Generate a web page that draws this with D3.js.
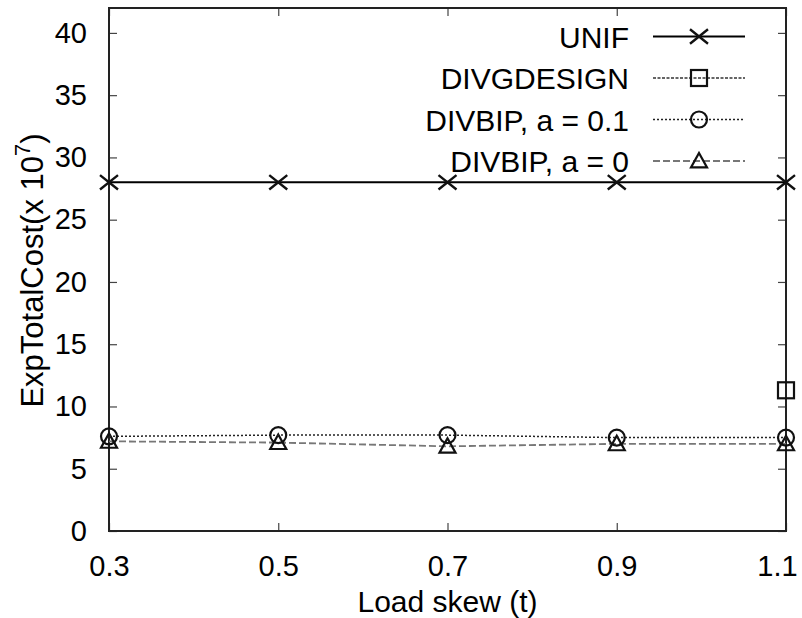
<!DOCTYPE html>
<html>
<head>
<meta charset="utf-8">
<script src="https://cdn.jsdelivr.net/npm/d3@7"></script>
<style>
  body { margin: 0; background: #fff; }
  text { font-family: "Liberation Sans", Arial, sans-serif; fill: #000; }
</style>
</head>
<body>
<div id="chart"></div>
<script>
// data
const skew = [0.3, 0.5, 0.7, 0.9, 1.1];
const unif = [28, 28, 28, 28, 28];
const divgdesign = [null, null, null, null, 11.3];
const divbip01 = [7.6, 7.7, 7.7, 7.5, 7.5];
const divbip0 = [7.2, 7.1, 6.8, 7.0, 7.0];
const yTicks = [0, 5, 10, 15, 20, 25, 30, 35, 40];

const series = [
  { name: "UNIF", values: unif, marker: "x", stroke: "#000", width: 2, dash: null },
  { name: "DIVGDESIGN", values: divgdesign, marker: "square", stroke: "#333", width: 1.5, dash: "3,1.5" },
  { name: "DIVBIP, a = 0.1", values: divbip01, marker: "circle", stroke: "#222", width: 1.5, dash: "2,2" },
  { name: "DIVBIP, a = 0", values: divbip0, marker: "triangle", stroke: "#777", width: 1.8, dash: "7,3" }
];

const fontSize = "30px";

// set the dimensions and margins of the graph
const margin = { top: 8, right: 16, bottom: 87, left: 109 },
  width = 802 - margin.left - margin.right,
  height = 618 - margin.top - margin.bottom;

const svg = d3
  .select("#chart")
  .append("svg")
  .attr("width", 802)
  .attr("height", 618)
  .append("g")
  .attr("transform", `translate(${margin.left},${margin.top})`);

const x = d3.scaleLinear().domain([0.3, 1.1]).range([0, width]);
const y = d3.scaleLinear().domain([0, 42]).range([height, 0]);

// inner ticks on all four sides
const tickLen = 8;
svg
  .append("g")
  .call(d3.axisLeft(y).tickValues(yTicks).tickSize(-tickLen).tickPadding(22))
  .call((g) => g.select(".domain").remove())
  .call((g) => g.selectAll("text").attr("font-size", "29px"));
svg
  .append("g")
  .attr("transform", `translate(${width},0)`)
  .call(d3.axisRight(y).tickValues(yTicks).tickSize(-tickLen).tickFormat(""))
  .call((g) => g.select(".domain").remove());
svg
  .append("g")
  .attr("transform", `translate(0,${height})`)
  .call(d3.axisBottom(x).tickValues(skew).tickSize(-tickLen).tickPadding(24).tickFormat(d3.format(".1f")))
  .call((g) => g.select(".domain").remove())
  .call((g) => g.selectAll("text").attr("font-size", "29px"))
  .call((g) => g.selectAll(".tick:last-of-type text").attr("dx", -9));
svg
  .append("g")
  .call(d3.axisTop(x).tickValues(skew).tickSize(-tickLen).tickFormat(""))
  .call((g) => g.select(".domain").remove());
svg.selectAll(".tick line").attr("stroke", "#444").attr("stroke-width", 1.2);

// frame
svg
  .append("rect")
  .attr("width", width)
  .attr("height", height)
  .attr("fill", "none")
  .attr("stroke", "#222")
  .attr("stroke-width", 2);

// axis titles
const yTitle = svg
  .append("text")
  .attr("transform", `translate(-66,${height / 2 + 1}) rotate(-90)`)
  .attr("text-anchor", "middle")
  .attr("font-size", "31px");
yTitle.append("tspan").text("ExpTotalCost(x 10");
yTitle.append("tspan").attr("dy", -13).attr("font-size", "22px").text("7");
yTitle.append("tspan").attr("dy", 13).text(")");

svg
  .append("text")
  .attr("x", width / 2)
  .attr("y", height + 81)
  .attr("text-anchor", "middle")
  .attr("font-size", fontSize)
  .text("Load skew (t)");

function drawMarker(g, type, cx, cy, color) {
  const s = 8;
  if (type === "x") {
    const k = 9;
    g.append("path")
      .attr("d", `M${cx - k},${cy - k * 0.8}L${cx + k},${cy + k * 0.8}M${cx - k},${cy + k * 0.8}L${cx + k},${cy - k * 0.8}`)
      .attr("stroke", color).attr("stroke-width", 2.4).attr("fill", "none");
  } else if (type === "square") {
    g.append("rect")
      .attr("x", cx - s).attr("y", cy - s).attr("width", 2 * s).attr("height", 2 * s)
      .attr("stroke", color).attr("stroke-width", 2.2).attr("fill", "none");
  } else if (type === "circle") {
    g.append("circle")
      .attr("cx", cx).attr("cy", cy).attr("r", s)
      .attr("stroke", color).attr("stroke-width", 2.2).attr("fill", "none");
  } else {
    g.append("path")
      .attr("d", `M${cx},${cy - s}L${cx + s},${cy + s * 0.8}L${cx - s},${cy + s * 0.8}Z`)
      .attr("stroke", color).attr("stroke-width", 2.2).attr("fill", "none");
  }
}

const line = d3
  .line()
  .defined((d) => d[1] !== null)
  .x((d) => x(d[0]))
  .y((d) => y(d[1]));

// draw the series, last legend entry first
series.slice().reverse().forEach(function (s) {
  const pts = skew.map((t, i) => [t, s.values[i]]);
  const g = svg.append("g");
  g.append("path")
    .datum(pts)
    .attr("d", line)
    .attr("fill", "none")
    .attr("stroke", s.stroke)
    .attr("stroke-width", s.width)
    .attr("stroke-dasharray", s.dash);
  pts.filter((d) => d[1] !== null).forEach(function (d) {
    drawMarker(g, s.marker, x(d[0]), y(d[1]), "#111");
  });
});

// legend
const legend = svg.append("g").attr("transform", `translate(${width - 133},28.5)`);
series.forEach(function (s, i) {
  const row = legend.append("g").attr("transform", `translate(0,${i * 41.5})`);
  row.append("text")
    .attr("x", -24)
    .attr("y", 11)
    .attr("text-anchor", "end")
    .attr("font-size", fontSize)
    .text(s.name);
  row.append("line")
    .attr("x1", 0).attr("x2", 92)
    .attr("stroke", s.stroke)
    .attr("stroke-width", s.width)
    .attr("stroke-dasharray", s.dash);
  drawMarker(row, s.marker, 46, 0, "#111");
});
</script>
</body>
</html>
